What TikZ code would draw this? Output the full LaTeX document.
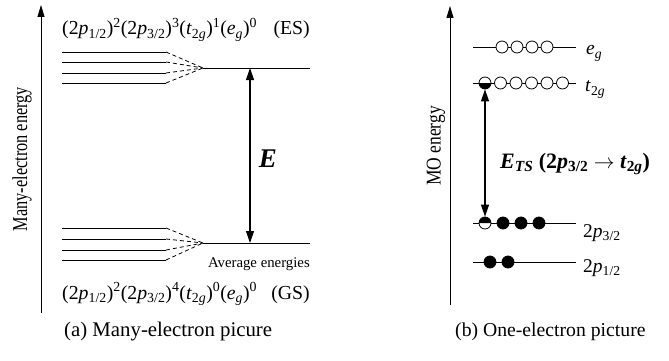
\documentclass[tikz,border=0pt]{standalone}
\usepackage{fontspec}
\setmainfont{Liberation Serif}
\usetikzlibrary{arrows.meta}
\newcommand\ipp{\textit{p}}
\newcommand\fsz[1]{\fontsize{#1}{#1}\selectfont}
\begin{document}
\begin{tikzpicture}[x=1pt,y=-1pt,
  lvl/.style={line width=0.9pt},
  axis/.style={line width=0.9pt,-{Triangle[length=12pt,width=7pt]}},
  gap/.style={line width=1.1pt,{Triangle[length=12pt,width=8pt]}-{Triangle[length=12pt,width=8pt]}},
  conv/.style={line width=0.8pt,dash pattern=on 4pt off 3pt},
  orb/.style={circle,draw,line width=0.8pt,minimum size=12pt,inner sep=0pt,fill=white},
  forb/.style={orb,fill=black},
  txt/.style={inner sep=0pt}]
\useasboundingbox (0,0) rectangle (669,361);
% ---------- left panel ----------
\coordinate (la0) at (41,313); \coordinate (la1) at (41,5);
\draw[axis] (la0) -- (la1);
\node[txt,rotate=90] (lylab) at (22,159) {\scalebox{1}[1.3]{\fsz{16.3}Many-electron energy}};
% upper multiplet
\foreach \i/\y in {1/52,2/62,3/73,4/83}{
  \coordinate (us\i) at (62,\y); \coordinate (ue\i) at (166,\y);
  \draw[lvl] (us\i) -- (ue\i);
}
\coordinate (uc) at (203,68); \coordinate (ur) at (310,68);
\foreach \i in {1,...,4}{\draw[conv] (ue\i) -- (uc);}
\draw[lvl] (uc) -- (ur);
% lower multiplet
\foreach \i/\y in {1/228,2/239,3/250,4/260}{
  \coordinate (ls\i) at (62,\y); \coordinate (le\i) at (166,\y);
  \draw[lvl] (ls\i) -- (le\i);
}
\coordinate (lc) at (203,243); \coordinate (lr) at (310,243);
\foreach \i in {1,...,4}{\draw[conv] (le\i) -- (lc);}
\draw[lvl] (lc) -- (lr);
% E arrow
\coordinate (et) at (250,68); \coordinate (eb) at (250,243);
\draw[gap] (et) -- (eb);
\node[txt] (elab) at (268,159) {\fsz{27}\bfseries\itshape E};
% texts
\node[txt,anchor=base west] (esf) at (62,35) {\fsz{19.8}(2\ipp\textsubscript{1/2})\textsuperscript{2}(2\ipp\textsubscript{3/2})\textsuperscript{3}(\textit{t}\textsubscript{2\textit{g}})\textsuperscript{1}(\textit{e}\textsubscript{\textit{g}})\textsuperscript{0}};
\node[txt,anchor=base east] (es) at (310,35) {\fsz{19.8}(ES)};
\node[txt,anchor=base west] (gsf) at (62,299) {\fsz{19.8}(2\ipp\textsubscript{1/2})\textsuperscript{2}(2\ipp\textsubscript{3/2})\textsuperscript{4}(\textit{t}\textsubscript{2\textit{g}})\textsuperscript{0}(\textit{e}\textsubscript{\textit{g}})\textsuperscript{0}};
\node[txt,anchor=base east] (gs) at (310,299) {\fsz{19.8}(GS)};
\node[txt,anchor=base east] (avg) at (310,267) {\fsz{14.8}Average energies};
\node[txt,anchor=base west] (capa) at (64,336) {\fsz{20.8}(a) Many-electron picure};
% ---------- right panel ----------
\coordinate (ra0) at (450,305); \coordinate (ra1) at (450,6);
\draw[axis] (ra0) -- (ra1);
\node[txt,rotate=90] (rylab) at (436,146) {\scalebox{1}[1.2]{\fsz{17.5}MO energy}};
% levels
\coordinate (egs) at (473,47);  \coordinate (ege) at (576,47);
\coordinate (tgs) at (473,83);  \coordinate (tge) at (576,83);
\coordinate (p3s) at (473,223); \coordinate (p3e) at (576,223);
\coordinate (p1s) at (473,262); \coordinate (p1e) at (576,262);
\draw[lvl] (egs) -- (ege);
\draw[lvl] (tgs) -- (tge);
\draw[lvl] (p3s) -- (p3e);
\draw[lvl] (p1s) -- (p1e);
\foreach \i/\x in {1/502,2/517,3/532,4/547}{\node[orb] (eg\i) at (\x,47) {};}
\foreach \i/\x in {1/485,2/500.5,3/516,4/531.5,5/547,6/562.5}{\node[orb] (tg\i) at (\x,83) {};}
\node[orb] (pa1) at (485,223) {};
\foreach \i/\x in {2/503,3/521,4/539}{\node[forb] (pa\i) at (\x,223) {};}
\foreach \i/\x in {1/490,2/508}{\node[forb] (pb\i) at (\x,262) {};}
% half-filled markers
\fill ([xshift=-6pt]tg1.center) arc[start angle=180,end angle=360,radius=6pt] -- cycle;
\fill ([xshift=-6pt]pa1.center) arc[start angle=180,end angle=0,radius=6pt] -- cycle;
\draw[gap] (tg1.south) -- (pa1.north);
% labels
\node[txt,anchor=base west] (eglab) at (586,55) {\fsz{19.5}\textit{e}\textsubscript{\textit{g}}};
\node[txt,anchor=base west] (tglab) at (585,92) {\fsz{19.5}\textit{t}\textsubscript{2\textit{g}}};
\node[txt,anchor=base west] (p3lab) at (583,237) {\fsz{19.5}2\ipp\textsubscript{3/2}};
\node[txt,anchor=base west] (p1lab) at (583,272) {\fsz{19.5}2\ipp\textsubscript{1/2}};
\node[txt,anchor=base west] (etslab) at (500,168) {\fsz{22}\bfseries\textit{E}\textsubscript{\textit{TS}} (2\textit{p}\textsubscript{3/2} $\rightarrow$ \textit{t}\textsubscript{2\textit{g}})};
\node[txt,anchor=base west] (capb) at (455,336) {\fsz{19.7}(b) One-electron picture};
\end{tikzpicture}
\end{document}
